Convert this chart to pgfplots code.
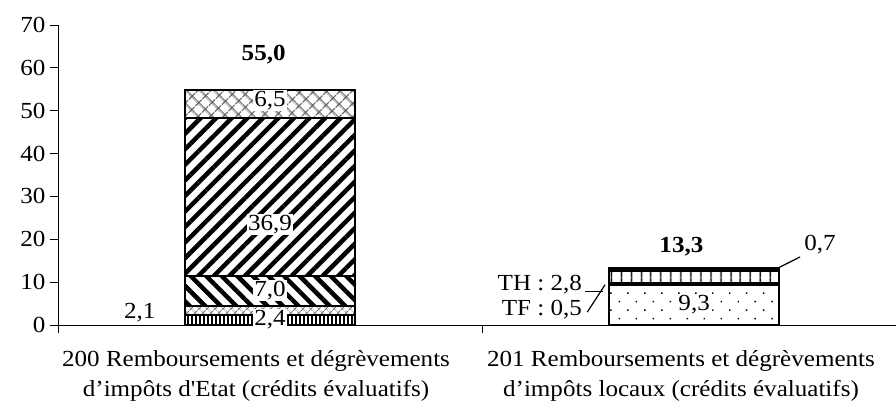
\documentclass[border=0pt]{standalone}
\usepackage{fontspec}
\setmainfont{Liberation Serif}[Ligatures=TeXOff, FakeStretch=1.09]
\usepackage{pgfplots}
\pgfplotsset{compat=1.18}
\usetikzlibrary{patterns.meta}
\newcommand\fs{\fontsize{23bp}{30bp}\selectfont}
\begin{document}
\begin{tikzpicture}
\begin{axis}[
  at={(0,0)}, anchor=south west,
  scale only axis, width=838bp, height=300bp,
  xmin=0.5, xmax=2.476, ymin=0, ymax=70,
  axis lines=left, axis line style={-, line width=0.8bp},
  xtick={0.5,1.5}, xticklabels={},
  ytick={0,10,...,70},
  tick align=outside, major tick length=8bp,
  tick style={black, line width=0.8bp},
  ybar stacked, bar width=170bp,
  clip=false,
  tick label style={font=\fs},
  yticklabel style={xshift=-1bp},
  /pgf/number format/assume math mode=true,
  every axis plot/.append style={draw=black, line width=2bp},
]
% left bar layers
\addplot[pattern={Lines[angle=90,distance=4bp,line width=2bp]}] coordinates {(1,2.4) (2,0)};
\addplot[pattern={Hatch[angle=45,distance=6bp,line width=1bp]}, pattern color=black!60] coordinates {(1,2.1) (2,0)};
\addplot[pattern={Lines[angle=-45,distance=11bp,line width=4.5bp]}] coordinates {(1,7.0) (2,0)};
\addplot[pattern={Lines[angle=45,distance=11bp,line width=4.5bp]}] coordinates {(1,36.9) (2,0)};
\addplot[pattern={Hatch[angle=45,distance=10bp,line width=1.5bp]}, pattern color=black!65] coordinates {(1,6.5) (2,0)};
% right bar layers
\addplot[pattern={Dots[distance=12bp,radius=1bp,angle=45]}] coordinates {(1,0) (2,9.3)};
\addplot[fill=black] coordinates {(1,0) (2,0.5)};
\addplot[pattern={Lines[angle=90,distance=10bp,line width=1.5bp]}] coordinates {(1,0) (2,2.8)};
\addplot[fill=black] coordinates {(1,0) (2,0.7)};
% label anchors
\coordinate (a24) at (axis cs:1,1.2);
\coordinate (a21) at (axis cs:0.693,2.8);
\coordinate (a70) at (axis cs:1,8.0);
\coordinate (a369) at (axis cs:1,23.5);
\coordinate (a65) at (axis cs:1,52.3);
\coordinate (a550) at (axis cs:0.985,63);
\coordinate (a93) at (axis cs:2,4.7);
\coordinate (a133) at (axis cs:1.97,18.3);
\coordinate (aTH) at (axis cs:1.736,9.5);
\coordinate (aTF) at (axis cs:1.736,3.5);
\coordinate (a07) at (axis cs:2.297,18.7);
\coordinate (h1) at (axis cs:1.743,7.9);
\coordinate (h2) at (axis cs:1.785,7.9);
\coordinate (f1) at (axis cs:1.748,3.0);
\coordinate (f2) at (axis cs:1.790,9.4);
\coordinate (s1) at (axis cs:2.198,13.3);
\coordinate (s2) at (axis cs:2.250,15.9);
\coordinate (c1) at (axis cs:0.967,0);
\coordinate (c2) at (axis cs:1.969,0);
\end{axis}
\node[fill=white, inner sep=1bp, font=\fs] at (a24) {2,4};
\node[inner sep=1bp, font=\fs] at (a21) {2,1};
\node[fill=white, inner sep=1bp, font=\fs] at (a70) {7,0};
\node[fill=white, inner sep=1bp, font=\fs] at (a369) {36,9};
\node[fill=white, inner sep=1bp, font=\fs] at (a65) {6,5};
\node[font=\fs\bfseries] at (a550) {55,0};
\node[fill=white, inner sep=1bp, font=\fs] at (a93) {9,3};
\node[font=\fs\bfseries] at (a133) {13,3};
\node[anchor=east, inner sep=0bp, font=\fs] at (aTH) {TH : 2,8};
\node[anchor=east, inner sep=0bp, font=\fs] at (aTF) {TF : 0,5};
\node[font=\fs] at (a07) {0,7};
\draw[line width=1.2bp] (h1) -- (h2);
\draw[line width=1.2bp] (f1) -- (f2);
\draw[line width=1.2bp] (s1) -- (s2);
\node[anchor=north, align=center, font=\fs, inner sep=0bp, yshift=-25bp] at (c1) {200 Remboursements et dégrèvements\\d’impôts d'Etat (crédits évaluatifs)};
\node[anchor=north, align=center, font=\fs, inner sep=0bp, yshift=-25bp] at (c2) {201 Remboursements et dégrèvements\\d’impôts locaux (crédits évaluatifs)};
\pgfresetboundingbox
\path[use as bounding box] (-58bp,-87bp) rectangle (838bp,325bp);
\end{tikzpicture}
\end{document}
